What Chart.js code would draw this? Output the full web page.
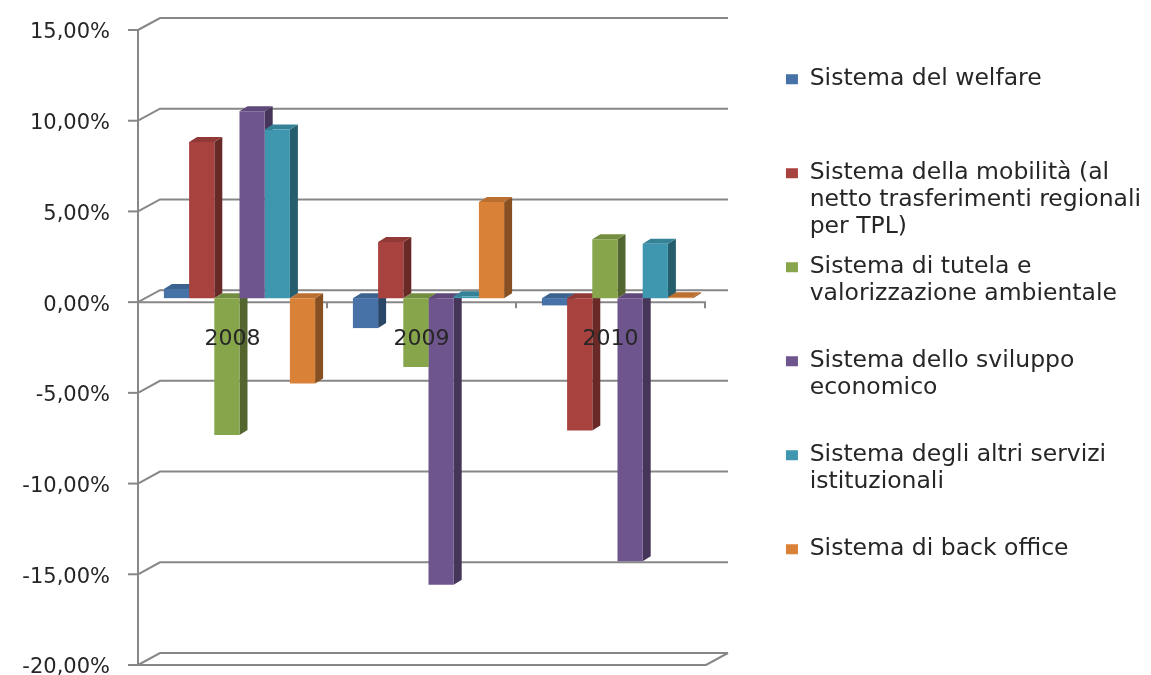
<!DOCTYPE html>
<html>
<head>
<meta charset="utf-8">
<script src="https://cdn.jsdelivr.net/npm/chart.js@4.4.1/dist/chart.umd.min.js"></script>
<style>
html,body{margin:0;padding:0;background:#ffffff;}
#wrap{width:1151px;height:675px;position:relative;}
</style>
</head>
<body>
<div id="wrap"><canvas id="c"></canvas></div>
<script>
// ---- data ----
const categories = ['2008', '2009', '2010'];
const welfare      = [0.5, -1.65, -0.4];
const mobilita     = [8.6, 3.1, -7.3];
const tutela       = [-7.55, -3.8, 3.25];
const sviluppo     = [10.3, -15.8, -14.5];
const altriServizi = [9.3, 0.1, 3.0];
const backOffice   = [-4.7, 5.3, 0.05];

const seriesNames = [
  ['Sistema del welfare'],
  ['Sistema della mobilità (al', 'netto trasferimenti regionali', 'per TPL)'],
  ['Sistema di tutela e', 'valorizzazione ambientale'],
  ['Sistema dello sviluppo', 'economico'],
  ['Sistema degli altri servizi', 'istituzionali'],
  ['Sistema di back office']
];
const seriesValues = [welfare, mobilita, tutela, sviluppo, altriServizi, backOffice];

const yMin = -20, yMax = 15, yStep = 5;

// ---- styles ----
const seriesColors = ['#4672A8', '#A8423F', '#87A54B', '#6F558E', '#3E97AF', '#DA8138'];
const FONT = 'DejaVu Sans';
const TEXT = '#262626';
const GRID = '#878787';

function shade(hex, f) {
  const n = parseInt(hex.slice(1), 16);
  const r = Math.round(((n >> 16) & 255) * f), g = Math.round(((n >> 8) & 255) * f), b = Math.round((n & 255) * f);
  return 'rgb(' + r + ',' + g + ',' + b + ')';
}

const DX = 8, DY = 5; // bar depth

const frame3d = {
  id: 'frame3d',
  beforeDatasetsDraw(chart) {
    const ctx = chart.ctx, a = chart.chartArea;
    const ys = chart.scales.y, xs = chart.scales.x;
    const FX = a.left - 7, BX = a.left + 15, FR = a.right - 6, BR = a.right + 16;
    const fy = v => ys.getPixelForValue(v) + 4;
    const by = v => ys.getPixelForValue(v) - 8;
    ctx.save();
    ctx.strokeStyle = GRID;
    ctx.lineWidth = 2;
    ctx.lineJoin = 'miter';
    ys.ticks.forEach(t => {
      const v = t.value;
      ctx.beginPath();
      ctx.moveTo(FX, fy(v));
      ctx.lineTo(BX, by(v));
      ctx.lineTo(BR, by(v));
      ctx.stroke();
      ctx.beginPath();
      ctx.moveTo(FX - 10, fy(v));
      ctx.lineTo(FX, fy(v));
      ctx.stroke();
    });
    ctx.beginPath();
    ctx.moveTo(FX, fy(yMax));
    ctx.lineTo(FX, fy(yMin));
    ctx.stroke();
    ctx.beginPath();
    ctx.moveTo(FX, fy(yMin));
    ctx.lineTo(FR, fy(yMin));
    ctx.lineTo(BR, by(yMin));
    ctx.stroke();
    ctx.beginPath();
    ctx.moveTo(FX, fy(0));
    ctx.lineTo(FR, fy(0));
    ctx.stroke();
    const catW = xs.getPixelForValue(1) - xs.getPixelForValue(0);
    for (let j = 0; j < categories.length; j++) {
      const bx = xs.getPixelForValue(j) + catW / 2 - 7;
      ctx.beginPath();
      ctx.moveTo(bx, fy(0));
      ctx.lineTo(bx, fy(0) + 6);
      ctx.stroke();
    }
    for (let j = 0; j < categories.length; j++) {
      chart.data.datasets.forEach((ds, i) => {
        const el = chart.getDatasetMeta(i).data[j];
        if (!el) return;
        const p = el.getProps(['x', 'y', 'base', 'width'], true);
        const x0 = p.x - p.width / 2, x1 = p.x + p.width / 2;
        const top = Math.min(p.y, p.base), bot = Math.max(p.y, p.base);
        const col = seriesColors[i];
        ctx.fillStyle = shade(col, 0.62);
        ctx.beginPath();
        ctx.moveTo(x1, top);
        ctx.lineTo(x1 + DX, top - DY);
        ctx.lineTo(x1 + DX, bot - DY);
        ctx.lineTo(x1, bot);
        ctx.closePath();
        ctx.fill();
        ctx.fillStyle = shade(col, 0.86);
        ctx.beginPath();
        ctx.moveTo(x0, top);
        ctx.lineTo(x1, top);
        ctx.lineTo(x1 + DX, top - DY);
        ctx.lineTo(x0 + DX, top - DY);
        ctx.closePath();
        ctx.fill();
      });
    }
    ctx.restore();
  }
};

function padLines(lines) {
  const out = lines.slice();
  while (out.length < 3) out.push('');
  return out;
}

new Chart(document.getElementById('c'), {
  type: 'bar',
  data: {
    labels: categories,
    datasets: seriesValues.map((vals, i) => ({
      label: seriesNames[i].join(' '),
      data: vals,
      backgroundColor: seriesColors[i],
      borderWidth: 0,
      categoryPercentage: 0.8,
      barPercentage: 1.0
    }))
  },
  options: {
    responsive: true,
    maintainAspectRatio: false,
    animation: false,
    layout: { padding: { top: 26, bottom: 14, left: 0, right: 0 } },
    plugins: {
      tooltip: { enabled: false },
      legend: {
        position: 'right',
        align: 'start',
        maxWidth: 430,
        title: { display: true, text: ' ', font: { size: 10 }, padding: 8.25 },
        labels: {
          boxWidth: 12,
          boxHeight: 10,
          padding: 13,
          color: TEXT,
          font: { family: FONT, size: 23.5, lineHeight: 27 / 23.5 },
          generateLabels: chart => chart.data.datasets.map((ds, i) => ({
            text: padLines(seriesNames[i]),
            fillStyle: ds.backgroundColor,
            strokeStyle: ds.backgroundColor,
            lineWidth: 0,
            hidden: false,
            fontColor: TEXT,
            datasetIndex: i
          }))
        }
      }
    },
    scales: {
      x: {
        position: { y: 0 },
        z: 1,
        grid: { display: false },
        border: { display: false },
        ticks: { z: 1, padding: 20, labelOffset: -7, color: TEXT, font: { family: FONT, size: 22 } },
        afterFit: s => { s.height = 0; }
      },
      y: {
        min: yMin,
        max: yMax,
        grid: { display: false, drawTicks: true, tickLength: 35 },
        border: { display: false },
        ticks: {
          stepSize: yStep,
          padding: 0,
          labelOffset: 7,
          color: TEXT,
          font: { family: FONT, size: 21 },
          callback: v => Number(v).toFixed(2).replace('.', ',') + '%'
        },
        afterFit: s => { s.width = 145; }
      },
      y2: {
        position: 'right',
        display: true,
        grid: { display: false, drawTicks: false },
        border: { display: false },
        ticks: { display: false },
        afterFit: s => {
          const lw = s.chart.legend ? s.chart.legend.width : 0;
          s.width = Math.max(0, s.chart.width - lw - 712);
        }
      }
    }
  },
  plugins: [frame3d]
});
</script>
</body>
</html>
